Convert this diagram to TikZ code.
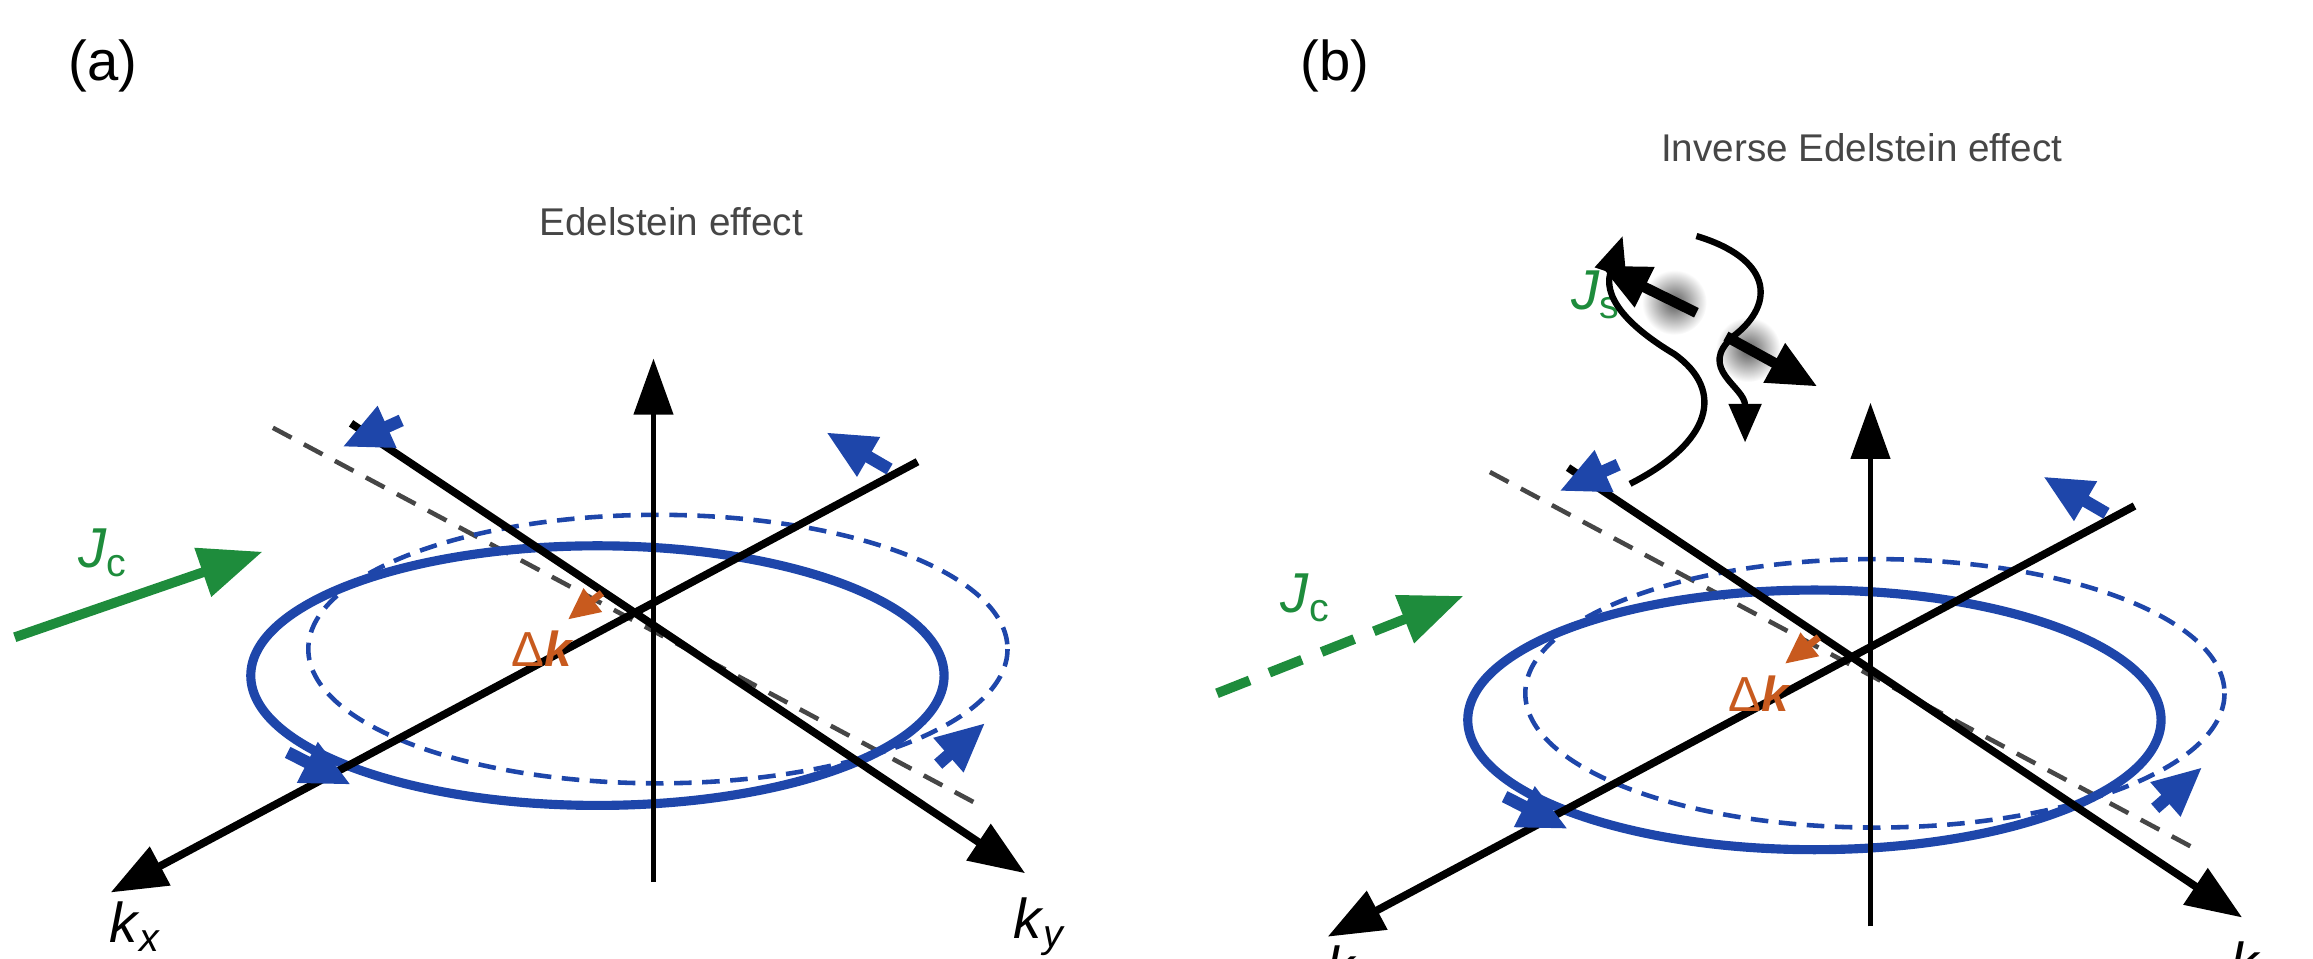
\documentclass[tikz,border=0pt]{standalone}
\usepackage{fontspec}
\setmainfont{Liberation Sans}
\usetikzlibrary{arrows.meta}
\definecolor{eblue}{RGB}{30,70,170}
\definecolor{egreen}{RGB}{30,140,60}
\definecolor{eorange}{RGB}{200,90,30}
\definecolor{egray}{RGB}{70,70,70}
\tikzset{
  ax/.style={line width=2.2pt,-{Triangle[length=16pt,width=12pt]}},
  axz/.style={line width=1.6pt,-{Triangle[length=16pt,width=11pt]}},
  solidring/.style={eblue,line width=2.6pt},
  dashring/.style={eblue,line width=1.3pt,dash pattern=on 5pt off 3pt},
  guide/.style={egray,line width=1.3pt,dash pattern=on 6pt off 4pt},
  spin/.style={eblue,line width=3.5pt,-{Triangle[length=14pt,width=12pt]}},
  dk/.style={eorange,line width=2pt,-{Triangle[length=9pt,width=8pt]}},
  lbl/.style={font=\fontsize{16}{19}\selectfont},
  ttl/.style={font=\fontsize{11}{13}\selectfont,text=egray},
}
\begin{document}
\begin{tikzpicture}[x=0.01475cm,y=-0.01475cm]
\useasboundingbox (0,0) rectangle (1568,650);
\foreach \dx/\dy/\pn in {0/0/a,825/30/b}{
\begin{scope}[shift={(\dx,\dy)}]
  \coordinate (O\pn) at (443,425);
  \coordinate (zb\pn) at (443,598);
  \coordinate (zt\pn) at (443,243);
  \coordinate (kxt\pn) at (75,605);
  \coordinate (kxe\pn) at (622,313);
  \coordinate (kyt\pn) at (695,592);
  \coordinate (kye\pn) at (238,287);
  \draw[guide] (185,290) -- (668,548);
  \draw[dashring] (446,440) ellipse [x radius=237, y radius=91];
  \draw[solidring] (405,458) ellipse [x radius=235, y radius=88];
  \draw[axz] (zb\pn) -- (zt\pn);
  \draw[ax] (kxe\pn) -- (kxt\pn);
  \draw[ax] (kye\pn) -- (kyt\pn);
  \draw[spin] (272,285) -- (232,303);
  \draw[spin] (603,318) -- (560,293);
  \draw[spin] (195,510) -- (238,532);
  \draw[spin] (636,518) -- (668,490);
  \draw[dk] (408,402) -- (385,420);
  \node[lbl,text=eorange,font=\fontsize{14}{16}\selectfont] (dk\pn) at (368,440) {Δ\textbf{\textit{k}}};
  \node[lbl] (kx\pn) at (92,628) {\textit{k}\textsubscript{\textit{x}}};
  \node[lbl] (ky\pn) at (705,628) {\textit{k}\textsubscript{\textit{y}}};
\end{scope}}
% panel (a)
\node[lbl] (pa) at (70,45) {(a)};
\node[ttl] (ta) at (455,150) {Edelstein effect};
\coordinate (jca0) at (10,432);
\coordinate (jca1) at (178,374);
\draw[egreen,line width=2.8pt,-{Triangle[length=18pt,width=14pt]}] (jca0) -- (jca1);
\node[lbl,text=egreen] (jca) at (70,375) {\textit{J}\textsubscript{c}};
% panel (b)
\node[lbl] (pb) at (905,45) {(b)};
\node[ttl] (tb) at (1262,100) {Inverse Edelstein effect};
\coordinate (jcb0) at (825,470);
\coordinate (jcb1) at (992,404);
\draw[egreen,line width=2.8pt,dash pattern=on 10pt off 6pt,-{Triangle[length=18pt,width=14pt]}] (jcb0) -- (jcb1);
\node[lbl,text=egreen] (jcb) at (885,405) {\textit{J}\textsubscript{c}};
\node[lbl,text=egreen] (js) at (1082,200) {\textit{J}\textsubscript{s}};
\foreach \n/\x/\y in {s1/1135/205,s2/1185/237}{
  \shade[inner color=black!65,outer color=white] (\x,\y) circle (22);
  \coordinate (\n) at (\x,\y);
}
\coordinate (w1b) at (1105,328);
\coordinate (w1t) at (1100,160);
\coordinate (w2b) at (1183,300);
\draw[line width=1.8pt,-{Triangle[length=11pt,width=9pt]}] (w1b)
  .. controls (1160,300) and (1170,265) .. (1135,240)
  .. controls (1085,210) and (1090,190) .. (w1t);
\draw[line width=1.8pt,-{Triangle[length=11pt,width=9pt]}] (1150,160)
  .. controls (1200,175) and (1205,205) .. (1175,228)
  .. controls (1150,250) and (1183,262) .. (w2b);
\draw[line width=3pt,-{Triangle[length=14pt,width=12pt]}] (1150,212) -- (1085,180);
\draw[line width=3pt,-{Triangle[length=14pt,width=12pt]}] (1170,228) -- (1232,262);
\end{tikzpicture}
\end{document}
